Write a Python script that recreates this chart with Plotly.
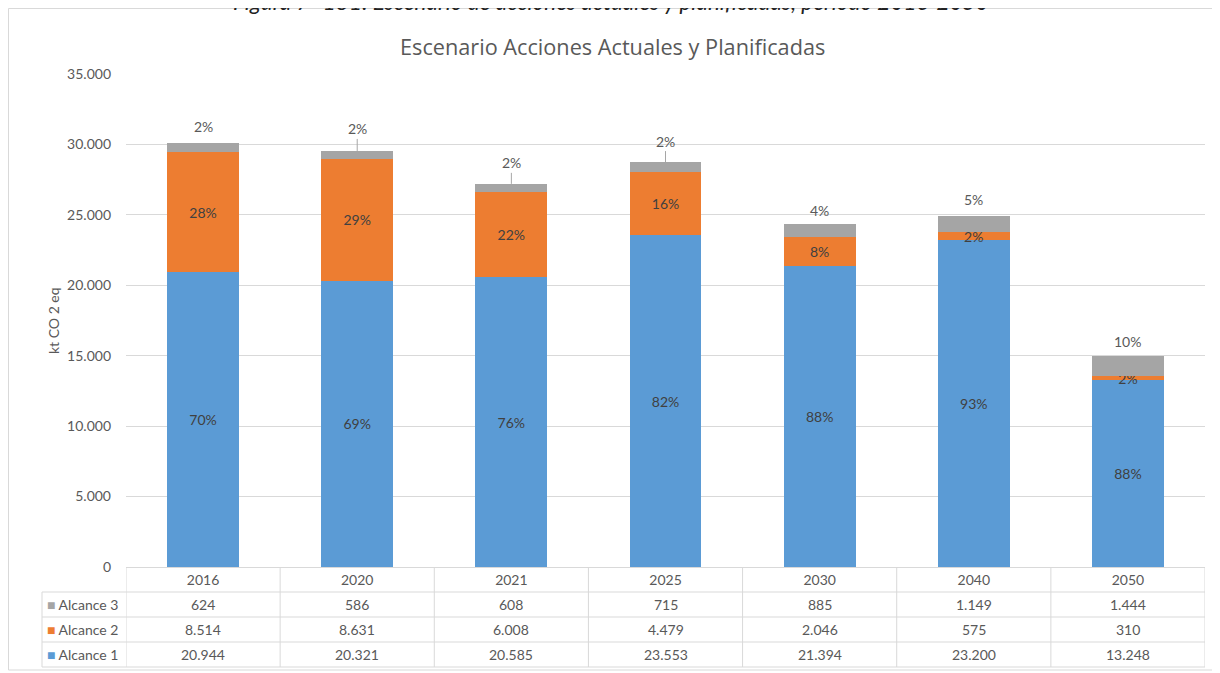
import plotly.graph_objects as go

# ---------------- data ----------------
years = ["2016", "2020", "2021", "2025", "2030", "2040", "2050"]
alcance1 = [20944, 20321, 20585, 23553, 21394, 23200, 13248]
alcance2 = [8514, 8631, 6008, 4479, 2046, 575, 310]
alcance3 = [624, 586, 608, 715, 885, 1149, 1444]
series_names = ["Alcance 1", "Alcance 2", "Alcance 3"]
y_ticks = [0, 5000, 10000, 15000, 20000, 25000, 30000, 35000]
chart_title = "Escenario Acciones Actuales y Planificadas"
caption = "Figura 7- 181: Escenario de acciones actuales y planificadas, período 2016-2050"
y_title = "kt CO 2 eq"

# ---------------- style ----------------
colors = ["#5B9BD5", "#ED7D31", "#A5A5A5"]
FONT = "Lato"
TXT = "#595959"
GRID = "#D9D9D9"
OFF = 8                                      # page body margin
W, H = 1220 - OFF, 673 - OFF
PL, PR, PT, PB = 126, 1205, 74, 567          # plot area in page pixels
top_label_offset = [17, 22, 21, 21, 14, 16, 14]  # px above bar top (Excel label placement)

series = [alcance1, alcance2, alcance3]
totals = [a + b + c for a, b, c in zip(alcance1, alcance2, alcance3)]
idx = list(range(len(years)))


def pct(v, t):
    return f"{round(100 * v / t):d}%"


def fmt(v):
    return f"{v:,}".replace(",", ".")


def px_x(X):
    return (X - PL) / (PR - PL)


def px_y(Y):
    return (PB - Y) / (PB - PT)


fig = go.Figure()
for i in range(2):
    fig.add_trace(go.Bar(
        x=years, y=series[i], name=series_names[i],
        marker=dict(color=colors[i], line=dict(width=0)),
        text=[pct(v, t) for v, t in zip(series[i], totals)],
        textposition="inside", insidetextanchor="middle", textangle=0,
        textfont=dict(family=FONT, size=14, color="#404040"),
        constraintext="none", showlegend=False, hoverinfo="x+y+name",
    ))
fig.add_trace(go.Bar(
    x=years, y=alcance3, name=series_names[2],
    marker=dict(color=colors[2], line=dict(width=0)),
    showlegend=False, hoverinfo="x+y+name",
))

annotations = []
# top labels (Alcance 3 share) with leader lines
for k, v, t in zip(idx, alcance3, totals):
    off = top_label_offset[k]
    annotations.append(dict(
        x=k, y=t, xref="x", yref="y", text=pct(v, t),
        showarrow=True, arrowhead=0, arrowwidth=1,
        arrowcolor="#A6A6A6" if off > 18 else "rgba(0,0,0,0)",
        ax=0, ay=-off, standoff=0,
        font=dict(family=FONT, size=14, color=TXT),
    ))

# table rows
row_lines = [592, 617, 642, 667]
row_order = [2, 1, 0]  # Alcance 3, Alcance 2, Alcance 1
for r, si in enumerate(row_order):
    yc = px_y((row_lines[r] + row_lines[r + 1]) / 2)
    for k, v in zip(idx, series[si]):
        annotations.append(dict(
            x=k, y=yc, xref="x", yref="paper", text=fmt(v), showarrow=False,
            font=dict(family=FONT, size=14, color=TXT), yanchor="middle",
        ))
    annotations.append(dict(
        x=px_x(45), y=yc, xref="paper", yref="paper", xanchor="left", yanchor="middle",
        text=f"<span style='color:{colors[si]}'>■</span> {series_names[si]}",
        showarrow=False, font=dict(family=FONT, size=14, color=TXT),
    ))

# y-axis title
annotations.append(dict(
    x=px_x(43), y=0.5, xref="paper", yref="paper", text=y_title, textangle=-90,
    showarrow=False, font=dict(family=FONT, size=14, color=TXT),
))
# chart title
annotations.append(dict(
    x=px_x(612), y=px_y(47), xref="paper", yref="paper", text=chart_title,
    showarrow=False, font=dict(family="Open Sans", size=21.7, color=TXT), yanchor="middle",
))
# cut-off document caption
annotations.append(dict(
    x=px_x(611), y=px_y(1), xref="paper", yref="paper", text=f"<i>{caption}</i>",
    showarrow=False, font=dict(family=FONT, size=22.5, color="#222222"), yanchor="middle",
))

shapes = []
# chart border
shapes.append(dict(type="rect", xref="paper", yref="paper",
                   x0=px_x(8.5), x1=px_x(1240), y0=px_y(670), y1=px_y(8.5),
                   line=dict(color=GRID, width=1), layer="below"))
# table horizontal lines
for Y in row_lines:
    shapes.append(dict(type="line", xref="paper", yref="paper",
                       x0=px_x(42), x1=1, y0=px_y(Y), y1=px_y(Y),
                       line=dict(color=GRID, width=1)))
# table vertical lines
for i in range(len(years) + 1):
    shapes.append(dict(type="line", xref="x", yref="paper",
                       x0=i - 0.5, x1=i - 0.5, y0=0, y1=px_y(667),
                       line=dict(color=GRID, width=1)))
shapes.append(dict(type="line", xref="paper", yref="paper",
                   x0=px_x(42), x1=px_x(42), y0=px_y(592), y1=px_y(667),
                   line=dict(color=GRID, width=1)))

fig.update_layout(
    width=W, height=H, autosize=False,
    margin=dict(l=PL - OFF, r=W - (PR - OFF), t=PT - OFF, b=H - (PB - OFF), autoexpand=False),
    barmode="stack", bargap=0.533,
    paper_bgcolor="white", plot_bgcolor="white",
    separators=",.",
    font=dict(family=FONT, size=14, color=TXT),
    uniformtext=dict(minsize=14, mode="show"),
    xaxis=dict(type="category", showgrid=False, showline=True, linecolor=GRID,
               ticks="", tickfont=dict(family=FONT, size=14, color=TXT),
               range=[-0.5, len(years) - 0.5], fixedrange=True),
    yaxis=dict(range=[0, 35000], tickvals=y_ticks, tickformat=",d",
               showgrid=True, gridcolor=GRID, gridwidth=1, zeroline=False,
               showline=False, ticks="", ticklabelstandoff=14,
               tickfont=dict(family=FONT, size=14, color=TXT), fixedrange=True),
    annotations=annotations, shapes=shapes,
)

fig.write_html("out.html")
